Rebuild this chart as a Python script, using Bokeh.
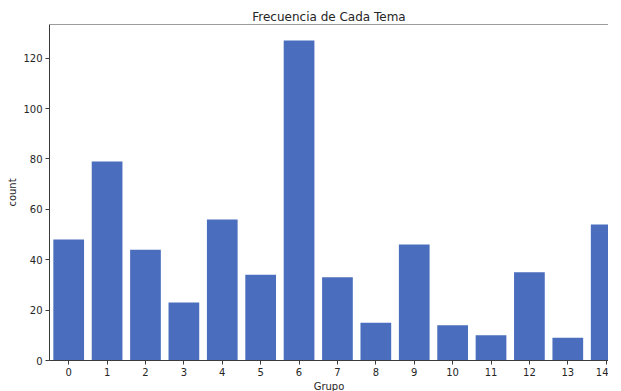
from bokeh.plotting import figure
from bokeh.models import FixedTicker, Range1d, Span, ColumnDataSource, Spacer
from bokeh.layouts import column, row
from bokeh.embed import file_html
from bokeh.resources import INLINE

grupos = list(range(15))
counts = [48, 79, 44, 23, 56, 34, 127, 33, 15, 46, 14, 10, 35, 9, 54]
y_ticks = [0, 20, 40, 60, 80, 100, 120]

ymax = max(counts) * 1.05
FONT = "DejaVu Sans"
TXT = "#262626"
SPINE = "#3a3a3a"

p = figure(frame_width=559, frame_height=336,
           x_range=Range1d(-0.5, 14.06), y_range=Range1d(0, ymax),
           output_backend="svg", toolbar_location=None,
           min_border_left=0, min_border_right=0, min_border_top=4, min_border_bottom=0)

src = ColumnDataSource(dict(x=grupos, top=counts))
p.vbar(x="x", top="top", width=0.8, source=src, fill_color="#4a6dbd", line_color=None)

p.title.text = "Frecuencia de Cada Tema"
p.title.align = "center"
p.title.text_font = FONT
p.title.text_font_size = "12px"
p.title.text_font_style = "normal"
p.title.text_color = TXT
p.title.standoff = 2

p.xgrid.visible = False
p.ygrid.visible = False
p.outline_line_color = None
p.add_layout(Span(location=ymax, dimension="width", line_color=SPINE, line_width=1))

for ax in (p.xaxis[0], p.yaxis[0]):
    ax.axis_line_color = SPINE
    ax.axis_line_width = 1
    ax.major_tick_line_color = SPINE
    ax.major_tick_out = 4
    ax.major_tick_in = 0
    ax.minor_tick_line_color = None
    ax.major_label_text_font = FONT
    ax.major_label_text_font_size = "10px"
    ax.major_label_text_color = TXT
    ax.axis_label_text_font = FONT
    ax.axis_label_text_font_size = "10px"
    ax.axis_label_text_font_style = "normal"
    ax.axis_label_text_color = TXT

p.xaxis.ticker = FixedTicker(ticks=grupos)
p.xaxis.axis_label = "Grupo"
p.xaxis.major_label_standoff = 3
p.xaxis.axis_label_standoff = 2
p.yaxis.ticker = FixedTicker(ticks=y_ticks)
p.yaxis.axis_label = "count"
p.yaxis.major_label_standoff = 3
p.yaxis.axis_label_standoff = 2

layout = column(Spacer(height=6, width=10), row(Spacer(width=4, height=10), p))

open("out.html", "w").write(file_html(layout, INLINE))
